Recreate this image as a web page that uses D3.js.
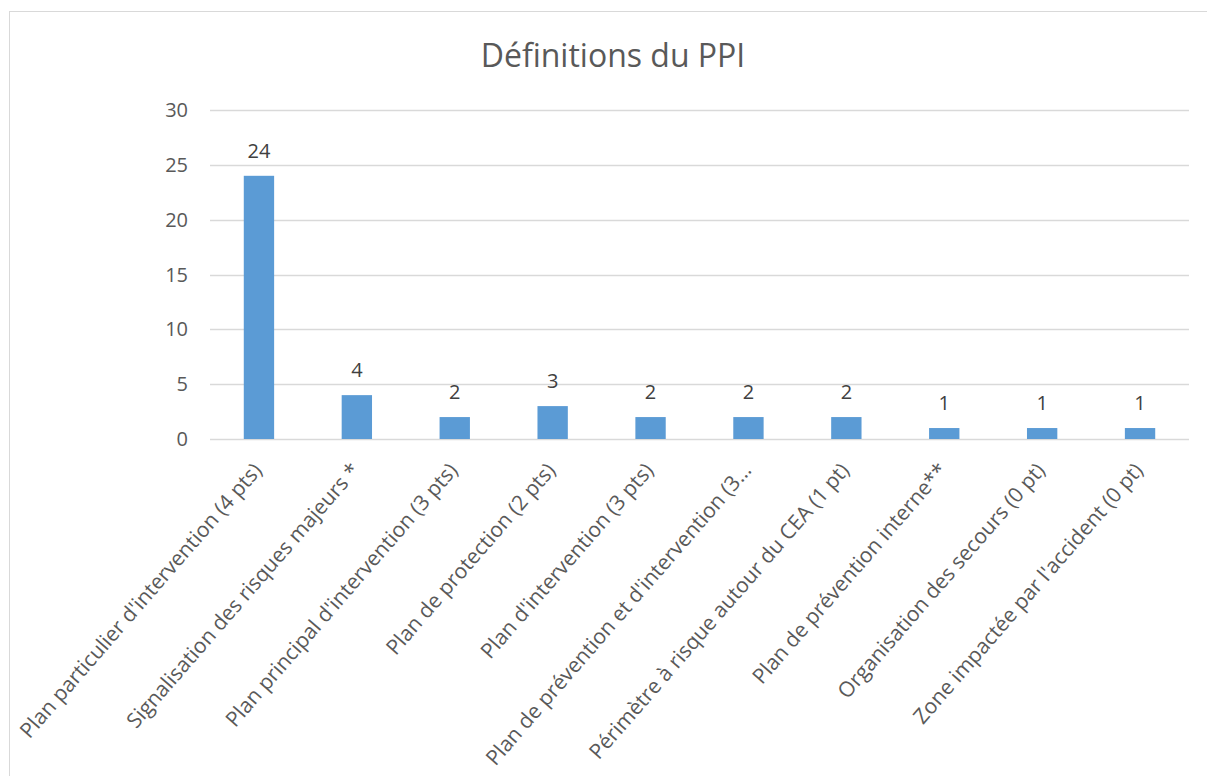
<!DOCTYPE html>
<html lang="fr">
<head>
	<meta charset="UTF-8"/>
	<title>Définitions du PPI</title>
	<script src="https://d3js.org/d3.v7.min.js"></script>
	<style>
		body { margin: 0; background: #fff; }
		text { font-family: "Open Sans", sans-serif; }
	</style>
</head>
<body>
	<script>
		var w = 1207;
		var h = 776;

		var categories = [
			"Plan particulier d'intervention (4 pts)",
			"Signalisation des risques majeurs *",
			"Plan principal d'intervention (3 pts)",
			"Plan de protection (2 pts)",
			"Plan d'intervention (3 pts)",
			"Plan de prévention et d'intervention (3…",
			"Périmètre à risque autour du CEA (1 pt)",
			"Plan de prévention interne**",
			"Organisation des secours (0 pt)",
			"Zone impactée par l'accident (0 pt)"
		];
		var values = [24, 4, 2, 3, 2, 2, 2, 1, 1, 1];
		var yTicks = [0, 5, 10, 15, 20, 25, 30];

		var plotLeft = 210, plotRight = 1189, plotTop = 110, plotBottom = 439;

		var svg = d3.select("body")
					.append("svg")
					.attr("width", w)
					.attr("height", h);

		// chart frame (right and bottom edges fall outside the picture)
		svg.append("rect")
			.attr("x", 9.5)
			.attr("y", 11.5)
			.attr("width", 1220)
			.attr("height", 800)
			.attr("fill", "none")
			.attr("stroke", "#d9d9d9");

		svg.append("text")
			.attr("x", 613)
			.attr("y", 67)
			.attr("text-anchor", "middle")
			.attr("font-size", 32)
			.attr("fill", "#595959")
			.text("Définitions du PPI");

		var xScale = d3.scaleBand()
					.domain(categories)
					.range([plotLeft, plotRight])
					.paddingInner(0.69)
					.paddingOuter(0.345);

		var yScale = d3.scaleLinear()
					.domain([0, 30])
					.range([plotBottom, plotTop]);

		// gridlines
		svg.selectAll("line.grid")
			.data(yTicks)
			.enter()
			.append("line")
			.attr("class", "grid")
			.attr("x1", plotLeft)
			.attr("x2", plotRight)
			.attr("y1", function(d) { return Math.round(yScale(d)) + 0.5; })
			.attr("y2", function(d) { return Math.round(yScale(d)) + 0.5; })
			.attr("stroke", "#d9d9d9")
			.attr("stroke-width", 1.5);

		// y tick labels
		svg.selectAll("text.ytick")
			.data(yTicks)
			.enter()
			.append("text")
			.attr("class", "ytick")
			.attr("x", 188)
			.attr("y", function(d) { return yScale(d) + 7; })
			.attr("text-anchor", "end")
			.attr("font-size", 20)
			.attr("fill", "#595959")
			.text(function(d) { return d; });

		// bars
		svg.selectAll("rect.bar")
			.data(values)
			.enter()
			.append("rect")
			.attr("class", "bar")
			.attr("x", function(d, i) { return xScale(categories[i]); })
			.attr("y", function(d) { return yScale(d); })
			.attr("width", xScale.bandwidth())
			.attr("height", function(d) { return plotBottom - yScale(d); })
			.attr("fill", "#5b9bd5");

		// value labels
		svg.selectAll("text.val")
			.data(values)
			.enter()
			.append("text")
			.attr("class", "val")
			.attr("x", function(d, i) { return xScale(categories[i]) + xScale.bandwidth() / 2; })
			.attr("y", function(d) { return yScale(d) - 18; })
			.attr("text-anchor", "middle")
			.attr("font-size", 20)
			.attr("fill", "#404040")
			.text(function(d) { return d; });

		// category labels, rotated
		svg.selectAll("text.cat")
			.data(categories)
			.enter()
			.append("text")
			.attr("class", "cat")
			.attr("text-anchor", "end")
			.attr("font-size", 21)
			.attr("fill", "#595959")
			.attr("transform", function(d) {
				var cx = xScale(d) + xScale.bandwidth() / 2 + 4;
				return "translate(" + cx + "," + (plotBottom + 32) + ") rotate(-49)";
			})
			.text(function(d) { return d; });
	</script>
</body>
</html>
